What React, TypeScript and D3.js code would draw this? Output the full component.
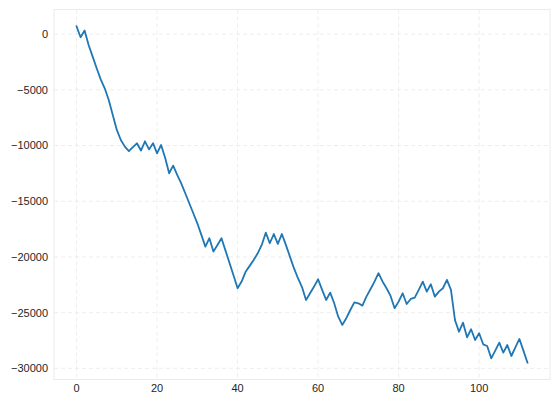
import React from "react";
import * as d3 from "d3";

const xValues: number[] = Array.from({ length: 113 }, (_, i) => i);
const seriesValues: number[] = [
  700, -280, 320, -970, -2020, -3070, -4060, -4860, -5910, -7250,
  -8600, -9500, -10100, -10500, -10150, -9800, -10450, -9620, -10350, -9790,
  -10700, -9950, -11100, -12490, -11800, -12640, -13390, -14280, -15180, -16080,
  -16980, -18020, -19070, -18320, -19520, -18920, -18320, -19430, -20540, -21670,
  -22810, -22210, -21320, -20800, -20270, -19670, -18920, -17820, -18770, -17940,
  -18830, -17940, -18920, -19970, -21010, -21910, -22700, -23860, -23260, -22660,
  -22000, -22960, -23860, -23200, -24160, -25360, -26100, -25500, -24760, -24070,
  -24160, -24370, -23560, -22900, -22210, -21460, -22200, -22810, -23500, -24600,
  -24010, -23260, -24220, -23770, -23650, -22960, -22210, -23110, -22450, -23560,
  -23110, -22810, -22060, -22960, -25670, -26710, -25900, -27210, -26490, -27450,
  -26850, -27840, -27990, -29100, -28410, -27690, -28590, -27900, -28890, -28110,
  -27360, -28410, -29490,
];
const xTicks: number[] = [0, 20, 40, 60, 80, 100];
const yTicks: number[] = [0, -5000, -10000, -15000, -20000, -25000, -30000];

const W = 560;
const H = 404;
const left = 54;
const right = 550;
const top = 9.5;
const bottom = 379.5;

const fmt = (v: number) => (v < 0 ? "\u2212" + Math.abs(v) : String(v));

export default function App() {
  const xMin = d3.min(xValues)!;
  const xMax = d3.max(xValues)!;
  const yMin = d3.min(seriesValues)!;
  const yMax = d3.max(seriesValues)!;
  const xPad = (xMax - xMin) * 0.05;
  const yPad = (yMax - yMin) * 0.05;
  const x = d3.scaleLinear().domain([xMin - xPad, xMax + xPad]).range([left, right]);
  const y = d3.scaleLinear().domain([yMin - yPad, yMax + yPad]).range([bottom, top]);
  const line = d3
    .line<number>()
    .x((_, i) => x(xValues[i]))
    .y((d) => y(d));
  const font = "'Liberation Sans', Arial, sans-serif";
  return (
    <svg
      width={W}
      height={H}
      style={{ position: "absolute", left: 0, top: 0, background: "#fff" }}
    >
      <rect x={0} y={0} width={W} height={H} fill="#fff" />
      {xTicks.map((t) => (
        <line
          key={"gx" + t}
          x1={x(t)}
          x2={x(t)}
          y1={top}
          y2={bottom}
          stroke="#ebebeb"
          strokeWidth={0.9}
          strokeDasharray="4,3"
        />
      ))}
      {yTicks.map((t) => (
        <line
          key={"gy" + t}
          x1={left}
          x2={right}
          y1={y(t)}
          y2={y(t)}
          stroke="#ebebeb"
          strokeWidth={0.9}
          strokeDasharray="4,3"
        />
      ))}
      <rect
        x={left}
        y={top}
        width={right - left}
        height={bottom - top}
        fill="none"
        stroke="#ebebeb"
        strokeWidth={1}
      />
      <path d={line(seriesValues) || ""} fill="none" stroke="#1f77b4" strokeWidth={1.8} strokeLinejoin="round" strokeLinecap="square" />
      {xTicks.map((t) => (
        <text
          key={"tx" + t}
          x={x(t)}
          y={bottom + 12}
          textAnchor="middle"
          fontFamily={font}
          fontSize={11}
          fill="#262626"
        >
          {fmt(t)}
        </text>
      ))}
      {yTicks.map((t) => (
        <text
          key={"ty" + t}
          x={left - 6}
          y={y(t)}
          dy="0.35em"
          textAnchor="end"
          fontFamily={font}
          fontSize={11}
          fill="#262626"
        >
          {fmt(t)}
        </text>
      ))}
    </svg>
  );
}
